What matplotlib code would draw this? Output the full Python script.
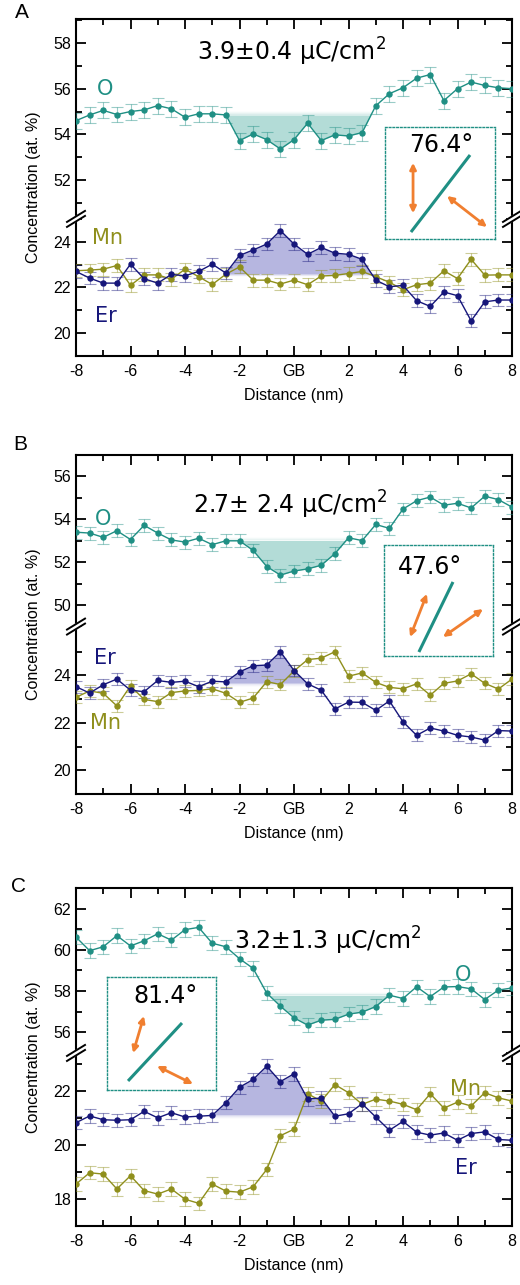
import numpy as np
import matplotlib
matplotlib.use("Agg")
import matplotlib.pyplot as plt
from matplotlib.lines import Line2D
from matplotlib.patches import Polygon, FancyArrowPatch

plt.rcParams['font.family'] = ['Liberation Sans', 'DejaVu Sans']

# distance from grain boundary (nm)
dist = np.arange(-8, 8.01, 0.5)

# panel A
o_a = [54.6, 54.85, 55.05, 54.87, 55.0, 55.07, 55.26, 55.12, 54.75, 54.9, 54.9,
       54.85, 53.73, 54.02, 53.77, 53.36, 53.77, 54.49, 53.73, 53.98, 53.93, 54.08,
       55.25, 55.78, 56.04, 56.46, 56.62, 55.48, 56.0, 56.29, 56.14, 56.04, 56.0]
er_a = [22.7, 22.41, 22.19, 22.19, 23.02, 22.38, 22.19, 22.57, 22.51, 22.7, 23.02,
        22.63, 23.4, 23.64, 23.9, 24.49, 23.9, 23.45, 23.75, 23.5, 23.45, 23.23,
        22.32, 22.03, 22.09, 21.42, 21.17, 21.8, 21.64, 20.54, 21.37, 21.45, 21.45]
mn_a = [22.73, 22.76, 22.8, 22.96, 22.09, 22.55, 22.55, 22.36, 22.8, 22.47, 22.13,
        22.58, 22.9, 22.32, 22.32, 22.15, 22.32, 22.12, 22.5, 22.53, 22.61, 22.7,
        22.47, 22.23, 21.9, 22.12, 22.19, 22.73, 22.39, 23.23, 22.54, 22.55, 22.55]

# panel B
o_b = [53.4, 53.36, 53.16, 53.47, 53.06, 53.72, 53.36, 53.04, 52.94, 53.12, 52.82,
       53.0, 53.0, 52.55, 51.8, 51.4, 51.59, 51.69, 51.86, 52.4, 53.14, 53.01,
       53.76, 53.58, 54.48, 54.87, 55.04, 54.66, 54.75, 54.53, 55.08, 54.92, 54.57]
er_b = [23.52, 23.25, 23.6, 23.84, 23.37, 23.31, 23.78, 23.7, 23.75, 23.52, 23.75,
        23.72, 24.14, 24.4, 24.43, 24.99, 24.2, 23.64, 23.37, 22.58, 22.87, 22.86,
        22.52, 22.92, 22.04, 21.47, 21.78, 21.65, 21.47, 21.4, 21.27, 21.67, 21.65]
mn_b = [23.07, 23.34, 23.24, 22.71, 23.55, 22.98, 22.89, 23.27, 23.34, 23.36, 23.43,
        23.24, 22.86, 23.04, 23.73, 23.61, 24.18, 24.66, 24.72, 24.99, 23.96, 24.1,
        23.7, 23.49, 23.43, 23.64, 23.16, 23.66, 23.76, 24.06, 23.66, 23.42, 23.84]

# panel C
o_c = [60.62, 59.96, 60.15, 60.69, 60.19, 60.44, 60.78, 60.47, 60.98, 61.09, 60.32,
       60.15, 59.57, 59.1, 57.9, 57.27, 56.7, 56.35, 56.59, 56.63, 56.88, 56.98,
       57.25, 57.8, 57.64, 58.21, 57.73, 58.2, 58.22, 58.11, 57.59, 58.05, 58.15]
er_c = [20.82, 21.07, 20.93, 20.91, 20.93, 21.24, 21.0, 21.19, 21.03, 21.06, 21.09,
        21.56, 22.13, 22.42, 22.91, 22.34, 22.63, 21.7, 21.73, 21.06, 21.15, 21.52,
        21.03, 20.54, 20.87, 20.47, 20.36, 20.44, 20.17, 20.42, 20.48, 20.2, 20.17]
mn_c = [18.55, 18.97, 18.92, 18.37, 18.86, 18.31, 18.18, 18.37, 17.99, 17.84, 18.55,
        18.29, 18.25, 18.45, 19.09, 20.34, 20.58, 21.89, 21.62, 22.23, 21.93, 21.5,
        21.69, 21.62, 21.5, 21.3, 21.89, 21.36, 21.58, 21.44, 21.93, 21.74, 21.62]

# error bars (at. %), roughly constant in each panel
err_o = [0.35, 0.3, 0.35]
err_er = [0.28, 0.25, 0.25]
err_mn = [0.28, 0.25, 0.25]

charges = ["3.9\u00b10.4 \u03bcC/cm$^2$", "2.7\u00b1 2.4 \u03bcC/cm$^2$",
           "3.2\u00b11.3 \u03bcC/cm$^2$"]
angles = ["76.4\u00b0", "47.6\u00b0", "81.4\u00b0"]
xtick_vals = [-8, -6, -4, -2, 0, 2, 4, 6, 8]
xtick_text = ["-8", "-6", "-4", "-2", "GB", "2", "4", "6", "8"]

C_O = "#1f8f84"
C_ER = "#16167a"
C_MN = "#8f8f1c"
F_O = "#a6d6d1"
F_ER = "#a9a9db"
ORANGE = "#f07f30"

W, H = 520, 1285
fig = plt.figure(figsize=(W / 100, H / 100), dpi=100)

# pixel layout of panels
panels = [
    dict(top=19, bot=356, ylt=(50.3, 59.05), ylb=(19, 25), tt=[52, 54, 56, 58], tb=[20, 22, 24],
         data=(o_a, er_a, mn_a)),
    dict(top=455, bot=794, ylt=(49.8, 56), ylb=(20, 26.05), tt=[50, 52, 54, 56], tb=[20, 22, 24],
         data=(o_b, er_b, mn_b)),
    dict(top=888, bot=1226, ylt=(55.9, 62), ylb=(17, 23.4), tt=[56, 58, 60, 62], tb=[18, 20, 22],
         data=(o_c, er_c, mn_c)),
]
LEFT, RIGHT = 76, 512


def fx(px):
    return px / W


def fy(py):
    return 1 - py / H


def style_ax(ax, yt):
    ax.set_xlim(-8, 8)
    ax.set_xticks(xtick_vals)
    ax.set_xticks(np.arange(-8, 9, 1), minor=True)
    ax.set_yticks(yt)
    ax.set_yticks(np.arange(yt[0] - 1, yt[-1] + 2, 1), minor=True)
    ax.tick_params(which='both', direction='in', width=1.3, labelsize=11.5, right=True)
    ax.tick_params(which='major', length=7)
    ax.tick_params(which='minor', length=4.5)
    for s in ax.spines.values():
        s.set_linewidth(1.5)


def series(ax, y, err, color):
    cont = ax.errorbar(dist, y, yerr=err, color=color, lw=1.0, marker='o', ms=3.6,
                       ecolor=color, elinewidth=0.8, capsize=4, capthick=0.8,
                       zorder=3)
    # lighter error bars, solid data line
    _, caps, bars = cont.lines
    for c in caps:
        c.set_alpha(0.45)
    for b in bars:
        b.set_alpha(0.45)


def soft_fill(ax, y, level, x0, x1, color, below=True):
    x = np.array(dist)
    y = np.array(y)
    xf = np.linspace(x0, x1, 500)
    yf = np.interp(xf, x, y)
    mask = yf <= level if below else yf >= level
    ax.fill_between(xf, yf, level, where=mask, color=color, lw=0, alpha=0.85, zorder=1)
    # soft (blurred) border towards the flat edge
    step = 0.04 if below else -0.04
    for k in range(1, 5):
        lv = level + step * k
        m = yf <= lv if below else yf >= lv
        ax.fill_between(xf, level, lv, where=m, color=color, lw=0,
                        alpha=0.18 * (5 - k) / 4, zorder=1)


def break_mark(xp, yp):
    # white gap in the spine plus two slanted strokes
    dx, dy, gap = 9, 5.5, 5
    poly = Polygon([(fx(xp - dx), fy(yp + dy + gap / 2)), (fx(xp + dx), fy(yp - dy + gap / 2)),
                    (fx(xp + dx), fy(yp - dy - gap / 2)), (fx(xp - dx), fy(yp + dy - gap / 2))],
                   closed=True, transform=fig.transFigure, color='white', zorder=10)
    fig.add_artist(poly)
    for off in (-gap / 2, gap / 2):
        fig.add_artist(Line2D([fx(xp - dx), fx(xp + dx)], [fy(yp + dy + off), fy(yp - dy + off)],
                              transform=fig.transFigure, color='black', lw=1.4, zorder=11))


def inset(box, text, tpos, line, arrows):
    l, r, t, b = box
    ax = fig.add_axes([fx(l), fy(b), (r - l) / W, (b - t) / H])
    ax.set_xlim(0, 1)
    ax.set_ylim(0, 1)
    ax.set_xticks([])
    ax.set_yticks([])
    ax.patch.set_alpha(0)
    for s in ax.spines.values():
        s.set_linestyle((0, (1.2, 1.5)))
        s.set_color(C_O)
        s.set_linewidth(1.0)
    ax.text(tpos[0], tpos[1], text, ha='center', va='center', fontsize=17,
            family='DejaVu Sans')
    ax.plot([line[0], line[2]], [line[1], line[3]], color=C_O, lw=2.2, solid_capstyle='butt')
    for a in arrows:
        ax.add_patch(FancyArrowPatch((a[0], a[1]), (a[2], a[3]), arrowstyle='<|-|>',
                                     mutation_scale=9, color=ORANGE, lw=2.0,
                                     shrinkA=0, shrinkB=0))


axes = []
for i, p in enumerate(panels):
    span_t = p['ylt'][1] - p['ylt'][0]
    span_b = p['ylb'][1] - p['ylb'][0]
    mid = p['top'] + (p['bot'] - p['top']) * span_t / (span_t + span_b)
    ax_t = fig.add_axes([fx(LEFT), fy(mid), (RIGHT - LEFT) / W, (mid - p['top']) / H])
    ax_b = fig.add_axes([fx(LEFT), fy(p['bot']), (RIGHT - LEFT) / W, (p['bot'] - mid) / H])
    ax_t.set_ylim(*p['ylt'])
    ax_b.set_ylim(*p['ylb'])
    style_ax(ax_t, p['tt'])
    style_ax(ax_b, p['tb'])
    ax_t.spines['bottom'].set_visible(False)
    ax_b.spines['top'].set_visible(False)
    ax_t.tick_params(which='both', bottom=False, top=True, labelbottom=False)
    ax_b.tick_params(which='both', top=False, bottom=True)
    ax_b.set_xticklabels(xtick_text)
    ax_b.tick_params(axis='x', pad=6)
    ax_b.set_xlabel("Distance (nm)", fontsize=11.5, labelpad=6)
    o, er, mn = p['data']
    series(ax_t, o, err_o[i], C_O)
    series(ax_b, mn, err_mn[i], C_MN)
    series(ax_b, er, err_er[i], C_ER)
    axes.append((ax_t, ax_b, mid))
    break_mark(LEFT, mid)
    break_mark(RIGHT, mid)
    fig.text(fx(34), fy((p['top'] + p['bot']) / 2), "Concentration (at. %)", rotation=90,
             ha='center', va='center', fontsize=11.5)

# panel A
ax_t, ax_b, _ = axes[0]
soft_fill(ax_t, o_a, 54.85, -2.5, 2.85, F_O)
soft_fill(ax_b, er_a, 22.6, -2.5, 2.8, F_ER, below=False)
ax_t.text(-0.1, 57.6, charges[0], ha='center', va='center', fontsize=17, family='DejaVu Sans')
ax_t.text(-6.95, 56.0, "O", color=C_O, ha='center', va='center', fontsize=15, family='DejaVu Sans')
ax_b.text(-6.85, 24.17, "Mn", color=C_MN, ha='center', va='center', fontsize=15, family='DejaVu Sans')
ax_b.text(-6.9, 20.77, "Er", color=C_ER, ha='center', va='center', fontsize=15, family='DejaVu Sans')

# panel B
ax_t, ax_b, _ = axes[1]
soft_fill(ax_t, o_b, 53.02, -2.5, 2.0, F_O)
soft_fill(ax_b, er_b, 23.68, -2.5, 0.5, F_ER, below=False)
ax_t.text(-0.15, 54.66, charges[1], ha='center', va='center', fontsize=17, family='DejaVu Sans')
ax_t.text(-7.0, 54.0, "O", color=C_O, ha='center', va='center', fontsize=15, family='DejaVu Sans')
ax_b.text(-6.95, 24.73, "Er", color=C_ER, ha='center', va='center', fontsize=15, family='DejaVu Sans')
ax_b.text(-6.9, 21.97, "Mn", color=C_MN, ha='center', va='center', fontsize=15, family='DejaVu Sans')

# panel C
ax_t, ax_b, _ = axes[2]
soft_fill(ax_t, o_c, 57.8, -1.1, 3.6, F_O)
soft_fill(ax_b, er_c, 21.12, -2.9, 1.45, F_ER, below=False)
ax_t.text(1.25, 60.44, charges[2], ha='center', va='center', fontsize=17, family='DejaVu Sans')
ax_t.text(6.2, 58.8, "O", color=C_O, ha='center', va='center', fontsize=15, family='DejaVu Sans')
ax_b.text(6.3, 22.07, "Mn", color=C_MN, ha='center', va='center', fontsize=15, family='DejaVu Sans')
ax_b.text(6.3, 19.14, "Er", color=C_ER, ha='center', va='center', fontsize=15, family='DejaVu Sans')

# panel letters
fig.text(fx(22), fy(12), "A", ha='center', va='center', fontsize=15)
fig.text(fx(20), fy(444), "B", ha='center', va='center', fontsize=15)
fig.text(fx(18), fy(886), "C", ha='center', va='center', fontsize=15)

# insets with the grain boundary geometry
inset((385, 495, 127, 239), angles[0], (0.51, 0.84), (0.236, 0.062, 0.773, 0.75),
      [(0.255, 0.68, 0.255, 0.23), (0.564, 0.384, 0.927, 0.107)])
inset((384, 493, 545, 656), angles[1], (0.42, 0.80), (0.32, 0.036, 0.633, 0.667),
      [(0.239, 0.171, 0.394, 0.56), (0.541, 0.171, 0.908, 0.423)])
inset((107, 216, 977, 1090), angles[2], (0.54, 0.83), (0.193, 0.08, 0.688, 0.593),
      [(0.239, 0.327, 0.339, 0.655), (0.459, 0.212, 0.789, 0.053)])

fig.savefig("out.png", dpi=100)
